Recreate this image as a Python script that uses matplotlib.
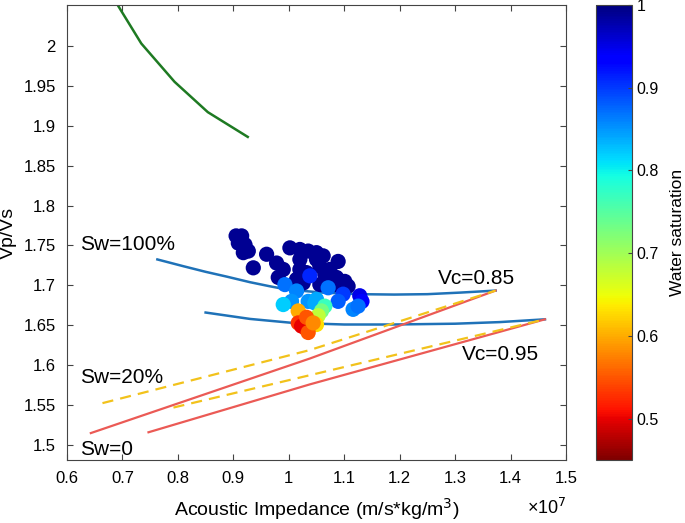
import numpy as np
import matplotlib
matplotlib.use("Agg")
import matplotlib.pyplot as plt

plt.rcParams['font.family'] = ['Liberation Sans', 'DejaVu Sans']

# acoustic impedance in units of 1e7 (m/s*kg/m^3)
green_ai = [0.688, 0.734, 0.794, 0.854, 0.926]
green_vpvs = [2.055, 2.003, 1.955, 1.917, 1.886]

# Sw=100% curves
blue1_ai = [0.763, 0.81, 0.85, 0.888, 0.93, 0.965, 0.995, 1.06, 1.127, 1.19, 1.25, 1.31, 1.373]
blue1_vpvs = [1.7325, 1.724, 1.717, 1.711, 1.704, 1.699, 1.695, 1.691, 1.689, 1.6885, 1.689, 1.691, 1.6935]
blue2_ai = [0.85, 0.93, 1.007, 1.1, 1.187, 1.3, 1.38, 1.462]
blue2_vpvs = [1.666, 1.658, 1.653, 1.651, 1.651, 1.652, 1.654, 1.6575]

# Sw=0 curves
red1_ai = [0.643, 1.038, 1.373]
red1_vpvs = [1.515, 1.6084, 1.6935]
red2_ai = [0.747, 1.038, 1.462]
red2_vpvs = [1.516, 1.576, 1.6575]

# Sw=20% curves
yel1_ai = [0.664, 1.038, 1.373]
yel1_vpvs = [1.5525, 1.619, 1.6935]
yel2_ai = [0.792, 1.038, 1.462]
yel2_vpvs = [1.547, 1.5875, 1.6575]

# well log samples
pts_ai = [0.905, 0.915, 0.909, 0.921, 0.927, 0.918, 0.960, 0.936, 0.978, 0.990,
          0.981, 1.002, 1.020, 1.035, 1.050, 1.062, 1.089, 1.020, 1.020, 1.032,
          1.056, 1.065, 1.074, 1.086, 1.101, 1.083, 1.056, 1.026, 1.014, 1.050,
          1.107,
          1.038, 1.128, 1.132, 1.098, 1.089,
          0.993, 1.014, 1.005, 0.990, 1.035, 1.047, 1.071, 1.116, 1.125, 1.050,
          1.065, 1.059, 1.053, 1.050,
          1.017, 1.017, 1.023, 1.032, 1.035, 1.032, 1.044]
pts_vpvs = [1.762, 1.762, 1.753, 1.751, 1.743, 1.741, 1.739, 1.722, 1.728, 1.720,
            1.710, 1.747, 1.745, 1.743, 1.741, 1.737, 1.730, 1.7325, 1.720, 1.716,
            1.724, 1.714, 1.720, 1.710, 1.705, 1.701, 1.701, 1.703, 1.7075, 1.7325,
            1.699,
            1.712, 1.687, 1.680, 1.689, 1.680,
            1.701, 1.693, 1.680, 1.676, 1.680, 1.678, 1.697, 1.670, 1.674, 1.6825,
            1.674, 1.668, 1.662, 1.651,
            1.668, 1.653, 1.649, 1.645, 1.641, 1.660, 1.653]
pts_sw = [0.99, 0.99, 0.99, 0.99, 0.99, 0.99, 0.99, 0.99, 0.99, 0.99,
          0.99, 0.99, 0.99, 0.99, 0.99, 0.99, 0.99, 0.99, 0.99, 0.99,
          0.99, 0.99, 0.99, 0.99, 0.99, 0.99, 0.99, 0.99, 0.99, 0.99,
          0.99,
          0.91, 0.95, 0.93, 0.90, 0.88,
          0.87, 0.86, 0.85, 0.82, 0.85, 0.84, 0.87, 0.86, 0.87, 0.84,
          0.77, 0.73, 0.68, 0.63,
          0.60, 0.53, 0.50, 0.50, 0.55, 0.55, 0.58]

fig = plt.figure(figsize=(6.85, 5.23), dpi=100)
ax = fig.add_axes([0.0978, 0.1205, 0.7285, 0.8699])

ax.plot(green_ai, green_vpvs, color='#1e7a22', lw=1.8)
ax.plot(blue1_ai, blue1_vpvs, color='#1f72b8', lw=1.8)
ax.plot(blue2_ai, blue2_vpvs, color='#1f72b8', lw=1.8)
ax.plot(red1_ai, red1_vpvs, color='#eb5a55', lw=1.6)
ax.plot(red2_ai, red2_vpvs, color='#eb5a55', lw=1.6)
ax.plot(yel1_ai, yel1_vpvs, color='#f2c21b', lw=1.6, ls=(0, (5, 3.2)))
ax.plot(yel2_ai, yel2_vpvs, color='#f2c21b', lw=1.6, ls=(0, (5, 3.2)))

sc = ax.scatter(pts_ai, pts_vpvs, c=pts_sw, cmap='jet_r', vmin=0.45, vmax=1.0,
                s=120, edgecolors='none', zorder=3)

ax.text(0.623, 1.751, 'Sw=100%', fontsize=15, va='center')
ax.text(1.269, 1.709, 'Vc=0.85', fontsize=15, va='center')
ax.text(0.623, 1.585, 'Sw=20%', fontsize=15, va='center')
ax.text(1.312, 1.614, 'Vc=0.95', fontsize=15, va='center')
ax.text(0.623, 1.495, 'Sw=0', fontsize=15, va='center')

ax.set_xlim(0.6, 1.5)
ax.set_ylim(1.4813, 2.0512)
ax.set_xticks(np.arange(0.6, 1.51, 0.1))
ax.set_xticklabels(['0.6', '0.7', '0.8', '0.9', '1', '1.1', '1.2', '1.3', '1.4', '1.5'])
ax.set_yticks(np.arange(1.5, 2.01, 0.05))
ax.set_yticklabels(['1.5', '1.55', '1.6', '1.65', '1.7', '1.75', '1.8', '1.85', '1.9', '1.95', '2'])
ax.tick_params(direction='in', length=4, top=True, right=True, labelsize=12,
               color='#444444', pad=8)
for sp in ax.spines.values():
    sp.set_color('#444444')
ax.set_xlabel('Acoustic Impedance (m/s*kg/m$^3$)', fontsize=14, labelpad=7)
ax.set_ylabel('Vp/Vs', fontsize=14, labelpad=5)
fig.text(527 / 685, 1 - 514 / 523, '\u00d710$^7$', fontsize=13, va='baseline')

cax = fig.add_axes([0.870, 0.1205, 0.052, 0.8699])
cbar = fig.colorbar(sc, cax=cax)
cbar.set_ticks([0.5, 0.6, 0.7, 0.8, 0.9, 1.0])
cbar.set_ticklabels(['0.5', '0.6', '0.7', '0.8', '0.9', '1'])
cbar.ax.tick_params(direction='in', length=3, labelsize=11.5, color='#444444')
cbar.outline.set_edgecolor('#444444')
cbar.set_label('Water saturation', fontsize=12.5, labelpad=8)

fig.savefig('out.png', dpi=100)
